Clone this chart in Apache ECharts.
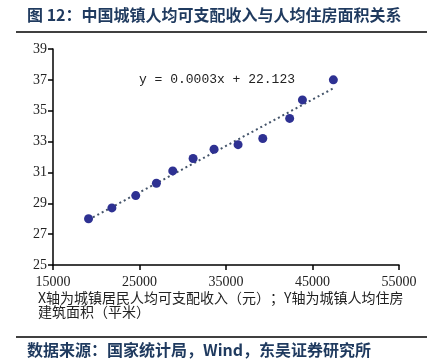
<!DOCTYPE html>
<html><head><meta charset="utf-8">
<script src="https://cdn.jsdelivr.net/npm/echarts@6/dist/echarts.min.js"></script>
<style>html,body{margin:0;padding:0;background:#fff}#c{width:427px;height:361px}</style>
</head><body><div id="c"></div>
<script>
var incomes = [19109, 21810, 24565, 26955, 28844, 31195, 33616, 36396, 39251, 42359, 43834, 47412];
var areas = [28.0, 28.7, 29.5, 30.3, 31.1, 31.9, 32.5, 32.8, 33.2, 34.5, 35.7, 37.0];
var xTicks = [15000, 25000, 35000, 45000, 55000];
var yTicks = [25, 27, 29, 31, 33, 35, 37, 39];
var equationText = 'y = 0.0003x + 22.123';

// least squares trend line from the data
var n = incomes.length, sx = 0, sy = 0, sxx = 0, sxy = 0;
for (var i = 0; i < n; i++) { sx += incomes[i]; sy += areas[i]; sxx += incomes[i]*incomes[i]; sxy += incomes[i]*areas[i]; }
var slope = (n*sxy - sx*sy) / (n*sxx - sx*sx);
var icpt = (sy - slope*sx) / n;
var xMinD = incomes[0], xMaxD = incomes[n-1];
var trend = [[xMinD, slope*xMinD + icpt], [xMaxD, slope*xMaxD + icpt]];

var chart = echarts.init(document.getElementById('c'));
var serif = '"Liberation Serif", "Noto Sans CJK SC", serif';
chart.setOption({
  animation: false,
  grid: {left: 53, right: 28, top: 49, bottom: 96},
  xAxis: {
    type: 'value', min: xTicks[0], max: xTicks[xTicks.length-1], interval: xTicks[1]-xTicks[0],
    splitLine: {show: false},
    axisLine: {lineStyle: {color: '#000', width: 1.5}},
    axisTick: {show: true, length: 5, lineStyle: {color: '#000', width: 1.5}},
    axisLabel: {color: '#222', fontFamily: serif, fontSize: 14, margin: 10, formatter: function(v){ return String(v); }}
  },
  yAxis: {
    type: 'value', min: yTicks[0], max: yTicks[yTicks.length-1], interval: yTicks[1]-yTicks[0],
    splitLine: {show: false},
    axisLine: {show: true, lineStyle: {color: '#000', width: 1.5}},
    axisTick: {show: true, length: 5, lineStyle: {color: '#000', width: 1.5}},
    axisLabel: {color: '#222', fontFamily: serif, fontSize: 14, margin: 6}
  },
  series: [
    {type: 'line', data: trend, symbol: 'none', silent: true,
     lineStyle: {color: '#44546A', width: 2, type: [2, 3]}, z: 1},
    {type: 'scatter', data: incomes.map(function(v, k){ return [v, areas[k]]; }),
     symbolSize: 9, itemStyle: {color: '#2E3192', opacity: 1}, z: 2}
  ],
  graphic: [
    {type: 'text', left: 27, top: 7, style: {text: '图 12：中国城镇人均可支配收入与人均住房面积关系', fill: '#1F3A5F', font: 'bold 16px "Noto Sans CJK SC"'}},
    {type: 'line', shape: {x1: 16, y1: 32, x2: 427, y2: 32}, style: {stroke: '#000', lineWidth: 1.5}},
    {type: 'text', left: 139, top: 73, style: {text: equationText, fill: '#222', font: '13px "Liberation Mono", monospace'}},
    {type: 'text', left: 38, top: 291, style: {text: 'X轴为城镇居民人均可支配收入（元）；Y轴为城镇人均住房', fill: '#222', font: '14px "Noto Sans CJK SC"'}},
    {type: 'text', left: 38, top: 305, style: {text: '建筑面积（平米）', fill: '#222', font: '14px "Noto Sans CJK SC"'}},
    {type: 'line', shape: {x1: 16, y1: 337, x2: 427, y2: 337}, style: {stroke: '#000', lineWidth: 1.5}},
    {type: 'text', left: 27, top: 342, style: {text: '数据来源：国家统计局，Wind，东吴证券研究所', fill: '#1F3A5F', font: 'bold 16px "Noto Sans CJK SC"'}}
  ]
});
</script></body></html>
